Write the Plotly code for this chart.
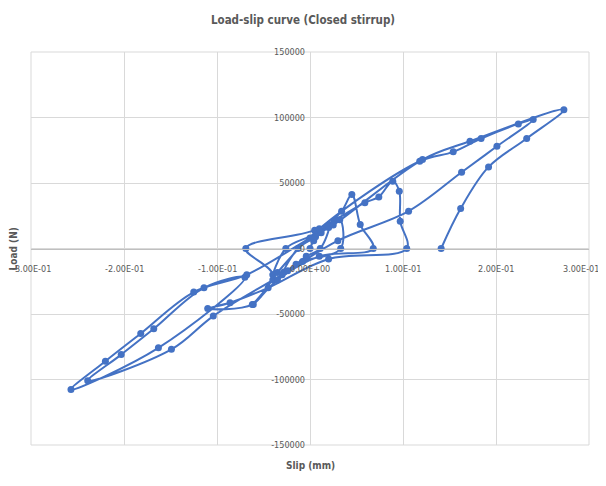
import plotly.graph_objects as go

# Slip (mm) and Load (N), in loading order
slip = [0.000, 0.004, 0.012, 0.020, 0.011, -0.004, -0.015, -0.028, -0.013,
        0.006, 0.020, 0.032, 0.033, -0.008, -0.024, -0.040, -0.026,
        0.008, 0.034, 0.045, 0.054, 0.068, 0.010, -0.035, -0.061, -0.040, -0.069,
        0.005, 0.059, 0.074, 0.089, 0.096, 0.097, 0.104, 0.020, -0.045, -0.086, -0.110, -0.062, -0.035,
        0.010, 0.118, 0.154, 0.184, 0.224, 0.240, 0.201, 0.163, 0.106, 0.030,
        -0.030, -0.104, -0.149, -0.239, -0.203, -0.168, -0.114, -0.070,
        -0.163, -0.257, -0.220, -0.182, -0.125, -0.068, 0.000, 0.025, 0.121, 0.172,
        0.273, 0.233, 0.192, 0.162, 0.141]
load = [0, 6000, 12000, 16000, 0, -6000, -12000, -18000, 0,
        9000, 17000, 22000, 0, -10000, -17000, -24000, 0,
        12000, 28500, 41200, 18300, 0, -6000, -24000, -42700, -20000, 0,
        14000, 35000, 39400, 51400, 43700, 20800, 0, -8000, -30000, -41400, -45800, -42700, -18300,
        15000, 66600, 73800, 84000, 95100, 98500, 78000, 58200, 28500, 6000,
        -20000, -51600, -77000, -101000, -81000, -61300, -30000, -22000,
        -75800, -107600, -86000, -64900, -33300, -20000, 8000, 18000, 67900, 81900,
        106000, 84000, 62300, 30500, 0]

x_ticks = [-0.3, -0.2, -0.1, 0.0, 0.1, 0.2, 0.3]
x_ticktext = ["-3.00E-01", "-2.00E-01", "-1.00E-01", "0.00E+00", "1.00E-01", "2.00E-01", "3.00E-01"]
y_ticks = [-150000, -100000, -50000, 0, 50000, 100000, 150000]
y_ticktext = ["-150000", "-100000", "-50000", "0", "50000", "100000", "150000"]

title_text = "Load-slip curve (Closed stirrup)"
x_title = "Slip (mm)"
y_title = "Load (N)"

blue = "#4472C4"
grey_text = "#595959"
grid = "#d9d9d9"
font_fam = "Liberation Sans Narrow, DejaVu Sans Condensed, Arial Narrow, Liberation Sans, sans-serif"

W, H = 590, 470

fig = go.Figure()
fig.add_trace(go.Scatter(
    x=slip, y=load, mode="lines+markers",
    line=dict(color=blue, width=2, shape="spline", smoothing=1.0),
    marker=dict(color=blue, size=7),
    showlegend=False, hoverinfo="skip"))

# x tick labels sit on the zero line (axis crosses at 0)
x_label_ann = []
for i, (v, t) in enumerate(zip(x_ticks, x_ticktext)):
    x_label_ann.append(dict(
        text=t, x=v, y=0, xref="x", yref="y", showarrow=False,
        xanchor="center", yanchor="middle", yshift=-20,
        xshift=(-8 if i == len(x_ticks) - 1 else 0),
        font=dict(family=font_fam, size=9, color=grey_text)))

fig.update_layout(
    width=W, height=H,
    margin=dict(l=23, r=9, t=44, b=33, autoexpand=False),
    paper_bgcolor="white", plot_bgcolor="white",
    font=dict(family=font_fam, color=grey_text, size=9),
    title=dict(text="<b>" + title_text + "</b>", x=0.5, xanchor="center",
               y=1 - 12 / H, yanchor="middle",
               font=dict(family=font_fam, size=11.5, color=grey_text)),
    xaxis=dict(range=[-0.3, 0.3], tickvals=x_ticks, showticklabels=False,
               showgrid=True, gridcolor=grid, gridwidth=1, automargin=False,
               zeroline=False, showline=True, linecolor="#bfbfbf", linewidth=1,
               anchor="free", position=0.5, ticks=""),
    yaxis=dict(range=[-150000, 150000], tickvals=y_ticks, ticktext=y_ticktext,
               showgrid=True, gridcolor=grid, gridwidth=1, automargin=False,
               zeroline=False, showline=False,
               anchor="free", position=0.5, ticks="", ticklabelstandoff=5,
               tickfont=dict(size=9, color=grey_text)),
    shapes=[dict(type="rect", xref="paper", yref="paper", x0=0, x1=1, y0=0, y1=1,
                 line=dict(color=grid, width=1), layer="below")],
    annotations=x_label_ann + [
        dict(text="<b>" + x_title + "</b>", xref="paper", yref="paper", x=0.5, y=-0.053,
             xanchor="center", yanchor="middle", showarrow=False,
             font=dict(family=font_fam, size=10, color=grey_text)),
        dict(text="<b>" + y_title + "</b>", xref="paper", yref="paper", x=-0.0305, y=0.5,
             xanchor="center", yanchor="middle", textangle=-90, showarrow=False,
             font=dict(family=font_fam, size=10, color=grey_text)),
    ],
)

fig.write_html("out.html")
